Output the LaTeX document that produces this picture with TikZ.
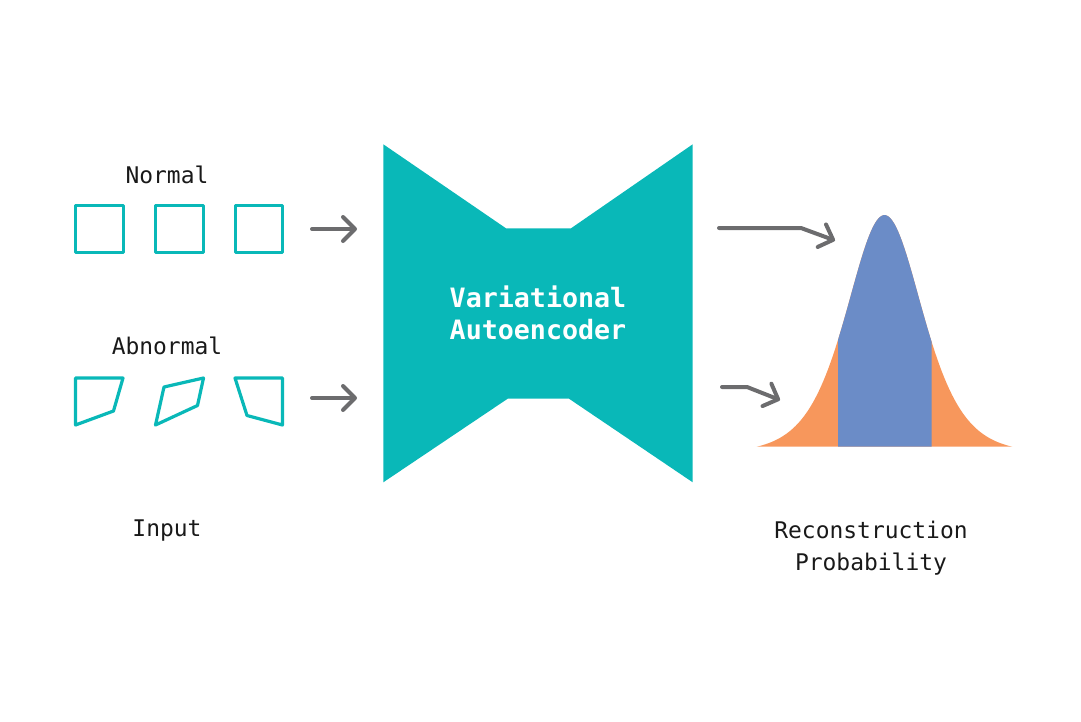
\documentclass[tikz,border=0pt]{standalone}
\definecolor{vaeteal}{RGB}{9, 184, 184}
\definecolor{arrowgray}{RGB}{108, 108, 110}
\definecolor{bellblue}{RGB}{107, 140, 199}
\definecolor{tailorange}{RGB}{247, 151, 92}
\usepackage{fontspec}
\setmonofont{DejaVu Sans Mono}
\usepackage{tikz}
\usetikzlibrary{arrows.meta, positioning}

\begin{document}
\begin{tikzpicture}[x=0.75pt, y=-0.75pt,
  lbl/.style={font=\ttfamily\fontsize{17.2}{24}\selectfont, text=black!90, align=center},
  sq/.style={draw=vaeteal, line width=2.4pt, minimum size=35.5pt, inner sep=0pt, line join=round},
  odd/.style={draw=vaeteal, line width=2.4pt, line join=round},
  arr/.style={draw=arrowgray, line width=3pt, line cap=round, line join=round,
    -{Straight Barb[length=9pt, width=18pt, line cap=round, line join=round]}},
  declare function={bell(\t)=446.7 - 231.7*(4/(exp((\t-884.5)/50.7)+exp(-(\t-884.5)/50.7))^2 - 0.0256)/0.9744;}]
  \useasboundingbox (0,0) rectangle (1081,721);

  % Input labels
  \node[lbl] (normal) at (167, 175) {Normal};
  \node[lbl] (abnormal) at (167, 346) {Abnormal};
  \node[lbl] (input) at (167, 531) {Input};

  % Normal samples
  \node[sq] (n1) at (99.5, 229) {};
  \node[sq] (n2) at (179.5, 229) {};
  \node[sq] (n3) at (259, 229) {};

  % Abnormal samples
  \draw[odd] (75.5, 378) -- (123, 378) -- (113.5, 411) -- (75.5, 425) -- cycle;
  \draw[odd] (164, 387) -- (203.5, 378) -- (197.5, 405.5) -- (155.5, 425) -- cycle;
  \draw[odd] (235, 378) -- (282.5, 378) -- (282.5, 425) -- (247, 415.5) -- cycle;

  % Variational autoencoder
  \fill[vaeteal] (383.3, 144.3) -- (506, 228.3) -- (571, 228.3) -- (692.7, 144.3)
    -- (692.7, 482.3) -- (569, 398.7) -- (507.7, 398.7) -- (383.3, 482.3) -- cycle;
  \node[font=\ttfamily\bfseries\fontsize{20}{24}\selectfont, text=white, align=center]
    (vae) at (538, 312.5) {Variational\\Autoencoder};

  % Bell curve
  \fill[tailorange] (756.7, 446.7) -- plot[domain=756.7:1012.3, samples=120]
    (\x, {bell(\x)}) -- cycle;
  \fill[bellblue] (838, 446.7) -- plot[domain=838:931.5, samples=80]
    (\x, {bell(\x)}) -- (931.5, 446.7) -- cycle;
  \node[lbl] (recon) at (871, 548) {Reconstruction\\Probability};

  % Connectors
  \coordinate (nin) at (312, 229);
  \coordinate (nout) at (357, 229);
  \coordinate (ain) at (312, 398);
  \coordinate (aout) at (357, 398);
  \coordinate (hi) at (719, 228);
  \coordinate (hibend) at (801, 228);
  \coordinate (hitip) at (835, 240.5);
  \coordinate (lo) at (722, 387);
  \coordinate (lobend) at (747, 387);
  \coordinate (lotip) at (780, 400);
  \draw[arr] (nin) -- (nout);
  \draw[arr] (ain) -- (aout);
  \draw[arr] (hi) -- (hibend) -- (hitip);
  \draw[arr] (lo) -- (lobend) -- (lotip);
\end{tikzpicture}
\end{document}
